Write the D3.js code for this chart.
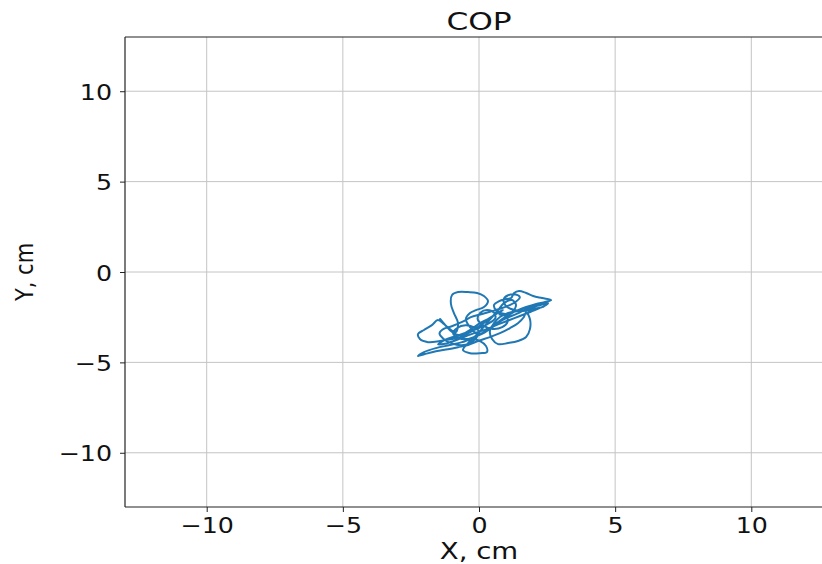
<!DOCTYPE html>
<html>
<head>
<meta charset="utf-8">
<script src="https://cdn.jsdelivr.net/npm/d3@7"></script>
<style>
  html, body { margin: 0; padding: 0; background: #fff; overflow: hidden; }
  svg { display: block; }
  text { font-family: "DejaVu Sans", sans-serif; fill: #111; }
</style>
</head>
<body>
<svg id="chart" width="822" height="564"></svg>
<script>
// ---- data (cm) ----
const title = "COP";
const xLabel = "X, cm";
const yLabel = "Y, cm";
const xDomain = [-13, 13];
const yDomain = [-13, 13];
const xTicks = [-10, -5, 0, 5, 10];
const yTicks = [-10, -5, 0, 5, 10];

const copX = [-1.43,-1.21,-0.99,-0.70,-0.40,-0.18,0.04,0.33,0.62,0.88,
  0.66,0.37,0.07,-0.26,-0.59,-0.99,-1.43,-1.87,-2.17,-2.24,
  -2.02,-1.73,-1.51,-1.29,-1.07,-0.85,-0.77,-0.92,-1.03,-0.99,
  -0.77,-0.40,-0.07,0.18,0.33,0.18,-0.11,-0.33,-0.48,-0.33,
  -0.04,0.26,0.55,0.85,1.14,1.43,1.73,2.10,2.43,2.65,
  2.32,1.99,1.73,1.47,1.29,1.18,0.99,0.74,0.55,0.66,
  0.96,1.21,1.36,1.21,0.92,0.70,0.48,0.26,0.04,-0.18,
  -0.40,-0.59,-0.33,0.04,0.29,0.26,0.04,-0.26,-0.62,-1.07,
  -1.58,-2.02,-2.24,-1.99,-1.58,-1.14,-0.77,-0.40,-0.04,0.40,
  0.77,1.14,1.43,1.65,1.73,1.87,1.87,1.73,1.43,1.07,
  0.70,0.48,0.40,0.55,0.77,1.07,1.43,1.87,2.32,2.54,
  2.20,1.80,1.40,1.00,0.70,0.45,0.20,-0.10,-0.40,-0.75,
  -0.95,-0.80,-0.50,-0.20,0.00,-0.10,-0.35,-0.65,-1.00,-1.30,
  -1.45,-1.30,-1.00,-0.60,-0.30,0.05,0.40,0.75,1.10,1.35,
  1.50,1.35,1.05,0.90,1.00,1.30,1.70,2.10,2.40,1.90,
  1.30,0.70,0.20,-0.30,-0.80,-1.20,-1.50,-1.25,-0.85,-0.45,
  0.00,0.35,0.60,0.55,0.30,0.05,-0.05,0.15,0.50,0.85,
  1.05,1.00,0.75];
const copY = [-2.60,-2.99,-3.32,-3.49,-3.27,-3.05,-2.83,-2.60,-2.33,-2.11,
  -2.27,-2.60,-2.94,-3.27,-3.55,-3.71,-3.82,-3.88,-3.71,-3.43,
  -3.21,-2.94,-2.66,-2.88,-3.16,-3.32,-2.83,-2.27,-1.77,-1.27,
  -1.11,-1.11,-1.16,-1.33,-1.61,-1.94,-2.11,-2.27,-2.60,-3.05,
  -3.43,-3.27,-2.94,-2.60,-2.33,-2.11,-1.94,-1.77,-1.66,-1.55,
  -1.44,-1.33,-1.16,-1.05,-1.16,-1.44,-1.50,-1.61,-1.83,-2.16,
  -2.33,-2.22,-1.83,-1.55,-1.72,-2.11,-2.49,-2.88,-3.27,-3.60,
  -3.93,-4.32,-4.49,-4.49,-4.43,-4.10,-3.82,-3.71,-3.88,-4.04,
  -4.21,-4.43,-4.65,-4.54,-4.38,-4.27,-4.16,-4.04,-3.82,-3.60,
  -3.38,-3.10,-2.83,-2.49,-2.22,-2.60,-3.16,-3.60,-3.82,-3.93,
  -3.99,-3.71,-3.27,-2.83,-2.49,-2.27,-2.16,-2.05,-1.94,-1.72,
  -1.85,-2.00,-2.30,-2.55,-2.80,-3.10,-3.35,-3.55,-3.70,-3.65,
  -3.40,-3.10,-2.95,-3.05,-3.30,-3.65,-3.95,-4.05,-3.95,-3.70,
  -3.40,-3.15,-3.00,-2.75,-2.50,-2.35,-2.20,-2.05,-1.85,-1.65,
  -1.40,-1.25,-1.30,-1.55,-1.90,-2.10,-2.15,-2.05,-1.90,-2.20,
  -2.55,-2.90,-3.20,-3.45,-3.75,-3.95,-4.00,-3.75,-3.55,-3.35,
  -3.10,-2.85,-2.55,-2.25,-2.10,-2.25,-2.60,-2.95,-3.15,-3.05,
  -2.75,-2.45,-2.35];

// ---- layout ----
const L = 125, R = 833, T = 37, B = 507;
const svg = d3.select("#chart");
svg.append("rect").attr("width", 822).attr("height", 564).attr("fill", "#fff");

const x = d3.scaleLinear().domain(xDomain).range([L, R]);
const y = d3.scaleLinear().domain(yDomain).range([B, T]);

// grid
const g = svg.append("g");
g.selectAll(".vx").data(xTicks).join("line")
  .attr("x1", d => x(d)).attr("x2", d => x(d)).attr("y1", T).attr("y2", B)
  .attr("stroke", "#c4c4c4").attr("stroke-width", 1);
g.selectAll(".hy").data(yTicks).join("line")
  .attr("x1", L).attr("x2", R).attr("y1", d => y(d)).attr("y2", d => y(d))
  .attr("stroke", "#c4c4c4").attr("stroke-width", 1);

// trajectory
const pts = copX.map((v, i) => [v, copY[i]]);
const line = d3.line().x(d => x(d[0])).y(d => y(d[1])).curve(d3.curveCatmullRom.alpha(0.5));
svg.append("path").datum(pts).attr("d", line)
  .attr("fill", "none").attr("stroke", "#1f77b4").attr("stroke-width", 2)
  .attr("stroke-linejoin", "round").attr("stroke-linecap", "round");

// axes
const fmt = d => d < 0 ? "\u2212" + Math.abs(d) : d;
const xAxis = svg.append("g").attr("transform", `translate(0,${B})`)
  .call(d3.axisBottom(x).tickValues(xTicks).tickSize(5).tickPadding(6).tickFormat(fmt));
const yAxis = svg.append("g").attr("transform", `translate(${L},0)`)
  .call(d3.axisLeft(y).tickValues(yTicks).tickSize(5).tickPadding(6).tickFormat(fmt));
[xAxis, yAxis].forEach(a => {
  a.select(".domain").remove();
  a.selectAll("line").attr("stroke", "#222").attr("stroke-width", 1);
  a.selectAll("text").attr("font-family", "DejaVu Sans").attr("font-size", 22).attr("fill", "#111");
});
xAxis.selectAll(".tick text")
  .attr("dy", null).attr("y", 26).attr("x", 0).attr("transform", "scale(1.15,1)");
yAxis.selectAll(".tick text")
  .attr("dy", null).attr("y", 8).attr("x", -13 / 1.15).attr("transform", "scale(1.15,1)");

// spines (right spine lies outside the visible window)
const spine = (x1, y1, x2, y2) => svg.append("line")
  .attr("x1", x1).attr("y1", y1).attr("x2", x2).attr("y2", y2)
  .attr("stroke", "#222").attr("stroke-width", 1.2);
spine(L, T, L, B); spine(L, B, R, B); spine(L, T, R, T);

// title and labels
svg.append("text").attr("transform", `translate(${(L + R) / 2},30) scale(1.25,1)`)
  .attr("text-anchor", "middle").attr("font-size", 25).text(title);
svg.append("text").attr("transform", `translate(${(L + R) / 2},559) scale(1.2,1)`)
  .attr("text-anchor", "middle").attr("font-size", 23).text(xLabel);
svg.append("text").attr("transform", `translate(33,${(T + B) / 2}) scale(1.2,1) rotate(-90)`)
  .attr("text-anchor", "middle").attr("font-size", 21).text(yLabel);
</script>
</body>
</html>
